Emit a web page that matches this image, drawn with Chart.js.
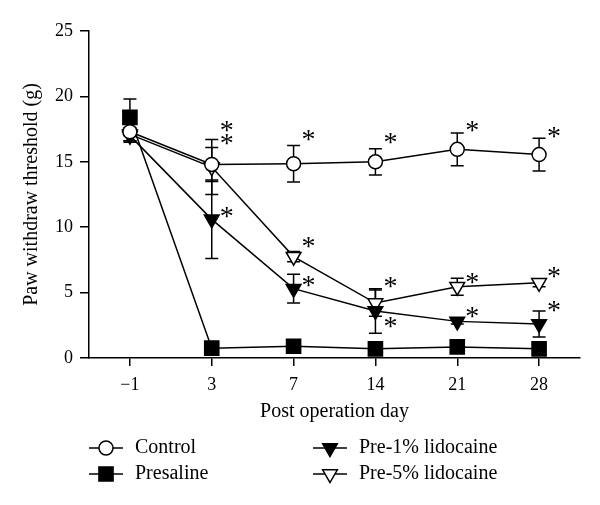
<!DOCTYPE html>
<html>
<head>
<meta charset="utf-8">
<script src="https://cdn.jsdelivr.net/npm/chart.js@4"></script>
<style>
  html, body { margin: 0; padding: 0; background: #fff; }
  #wrap { width: 600px; height: 505px; position: relative; }
</style>
</head>
<body>
<div id="wrap"><canvas id="c" width="600" height="505"></canvas></div>
<script>
// ---- data ----
const days = ['\u22121', '3', '7', '14', '21', '28'];
const yTicks = [0, 5, 10, 15, 20, 25];

const control      = [17.3, 14.8, 14.85, 15.0, 15.95, 15.55];
const controlErr   = [0.7, 1.3, 1.4, 1.0, 1.25, 1.25];
const presaline    = [18.4, 0.75, 0.9, 0.7, 0.85, 0.7];
const presalineErr = [1.4, 0, 0, 0, 0, 0];
const pre1         = [17.0, 10.6, 5.3, 3.6, 2.8, 2.6];
const pre1Err      = [0.5, 3.0, 1.1, 1.7, 0.2, 1.0];
const pre5         = [17.1, 14.6, 7.75, 4.2, 5.45, 5.75];
const pre5Err      = [0.5, 2.1, 0.4, 1.0, 0.65, 0.3];

// asterisk annotations: category index and y value
const starDay = [1, 1, 1, 2, 2, 2, 3, 3, 3, 4, 4, 4, 5, 5, 5];
const starY   = [17.7, 16.7, 11.1, 17.0, 8.8, 5.85, 16.8, 5.75, 2.7, 17.7, 6.1, 3.45, 17.2, 6.5, 3.9];

const seriesNames = ['Control', 'Presaline', 'Pre-1% lidocaine', 'Pre-5% lidocaine'];

const FONT = '"Liberation Serif", "DejaVu Serif", serif';

const styles = [
  { pointStyle: 'circle',   radius: 7,  rotation: 0,   fill: '#fff' },
  { pointStyle: 'rect',     radius: 10, rotation: 0,   fill: '#000' },
  { pointStyle: 'triangle', radius: 8.5, rotation: 180, fill: '#000' },
  { pointStyle: 'triangle', radius: 8.5, rotation: 180, fill: '#fff' }
];
const values = [control, presaline, pre1, pre5];
const errors = [controlErr, presalineErr, pre1Err, pre5Err];

const datasets = values.map((v, i) => ({
  label: seriesNames[i],
  data: v,
  borderColor: '#000',
  borderWidth: 1.5,
  backgroundColor: styles[i].fill,
  pointStyle: styles[i].pointStyle,
  pointRadius: styles[i].radius,
  pointRotation: styles[i].rotation,
  pointBackgroundColor: styles[i].fill,
  pointBorderColor: '#000',
  pointBorderWidth: 1.5,
  tension: 0,
  fill: false
}));

const errorBars = {
  id: 'errorBars',
  beforeDatasetsDraw(chart) {
    const ctx = chart.ctx;
    const xs = chart.scales.x, ys = chart.scales.y;
    ctx.save();
    ctx.strokeStyle = '#000';
    ctx.lineWidth = 1.5;
    values.forEach((v, i) => {
      v.forEach((val, j) => {
        const e = errors[i][j];
        if (!e) return;
        const x = xs.getPixelForValue(j);
        const yt = ys.getPixelForValue(val + e);
        const yb = ys.getPixelForValue(val - e);
        ctx.beginPath();
        ctx.moveTo(x, yt); ctx.lineTo(x, yb);
        ctx.moveTo(x - 6.5, yt); ctx.lineTo(x + 6.5, yt);
        ctx.moveTo(x - 6.5, yb); ctx.lineTo(x + 6.5, yb);
        ctx.stroke();
      });
    });
    ctx.restore();
  }
};

function drawMarker(ctx, i, x, y) {
  const s = styles[i];
  ctx.fillStyle = s.fill;
  ctx.strokeStyle = '#000';
  ctx.lineWidth = 1.5;
  Chart.helpers.drawPoint(ctx, { pointStyle: s.pointStyle, rotation: s.rotation, radius: s.radius, borderWidth: 1.5 }, x, y);
}

const extras = {
  id: 'extras',
  afterDraw(chart) {
    const ctx = chart.ctx;
    const xs = chart.scales.x, ys = chart.scales.y;
    ctx.save();
    // asterisks
    ctx.fillStyle = '#000';
    ctx.font = '28px ' + FONT;
    ctx.textAlign = 'center';
    ctx.textBaseline = 'middle';
    starDay.forEach((d, k) => {
      const x = xs.getPixelForValue(d) + 15;
      const y = ys.getPixelForValue(starY[k]);
      ctx.fillText('*', x, y + 5);
    });
    // legend
    const cols = [89, 313];
    const rows = [448, 474];
    const order = [[0, 0, 0], [1, 0, 1], [2, 1, 0], [3, 1, 1]];
    ctx.font = '20px ' + FONT;
    ctx.textAlign = 'left';
    ctx.textBaseline = 'middle';
    order.forEach(([i, c, r]) => {
      const x0 = cols[c], y = rows[r];
      ctx.strokeStyle = '#000';
      ctx.lineWidth = 1.5;
      ctx.beginPath();
      ctx.moveTo(x0, y); ctx.lineTo(x0 + 34, y);
      ctx.stroke();
      drawMarker(ctx, i, x0 + 17, y);
      ctx.fillStyle = '#000';
      ctx.fillText(seriesNames[i], x0 + 46, y);
    });
    ctx.restore();
  }
};

new Chart(document.getElementById('c'), {
  type: 'line',
  data: { labels: days, datasets: datasets },
  options: {
    responsive: false,
    animation: false,
    events: [],
    layout: { padding: { left: 0, right: 20, top: 31, bottom: 77 } },
    plugins: { legend: { display: false }, tooltip: { enabled: false } },
    scales: {
      x: {
        type: 'category',
        offset: true,
        grid: { display: true, drawOnChartArea: false, drawTicks: true, tickLength: 8, color: '#000', lineWidth: 1.5, offset: false },
        border: { display: true, color: '#000', width: 1.5 },
        ticks: { color: '#000', font: { family: FONT, size: 18 }, padding: 8, maxRotation: 0 },
        title: { display: true, text: 'Post operation day', color: '#000', font: { family: FONT, size: 20 }, padding: { top: 0, bottom: 4 } },
        afterFit(scale) { scale.height = 70; }
      },
      y: {
        min: 0, max: 25,
        afterBuildTicks(scale) { scale.ticks = yTicks.map(v => ({ value: v })); },
        grid: { display: true, drawOnChartArea: false, drawTicks: true, tickLength: 9, color: '#000', lineWidth: 1.5 },
        border: { display: true, color: '#000', width: 1.5 },
        ticks: { color: '#000', font: { family: FONT, size: 18 }, padding: 7 },
        title: { display: true, text: 'Paw withdraw threshold (g)', color: '#000', font: { family: FONT, size: 20 }, padding: { top: 20, bottom: 0 } },
        afterFit(scale) { scale.width = 89; }
      }
    }
  },
  plugins: [errorBars, extras]
});
</script>
</body>
</html>
